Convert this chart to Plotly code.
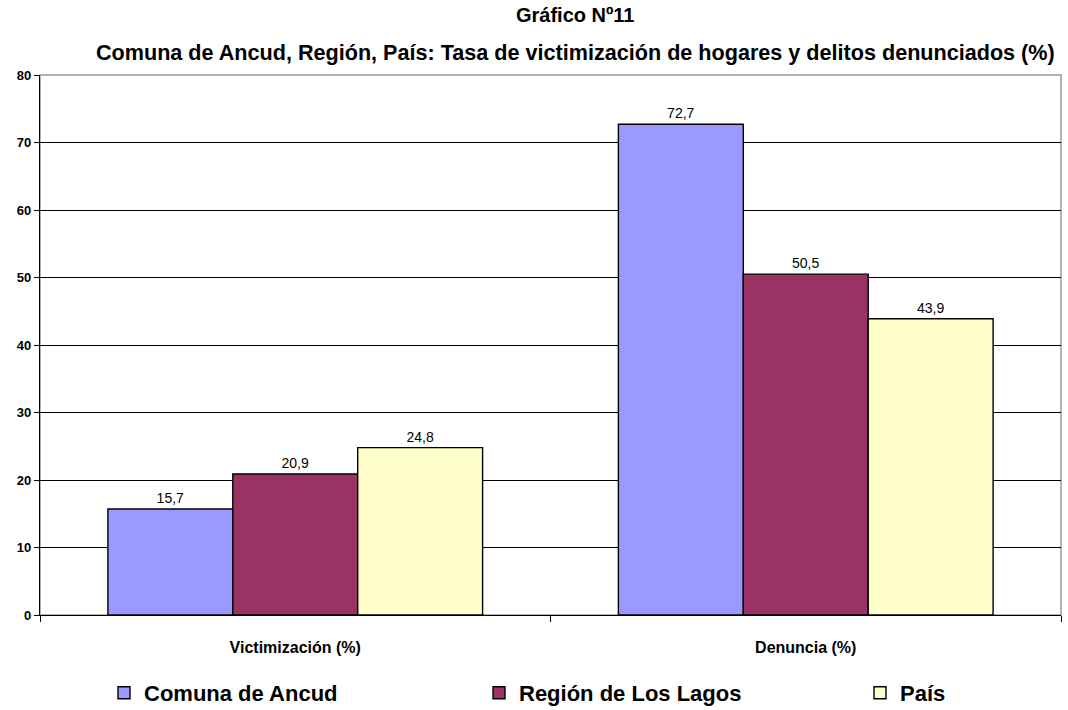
import plotly.graph_objects as go

# data
categories = ["Victimización (%)", "Denuncia (%)"]
series_names = ["Comuna de Ancud", "Región de Los Lagos", "País"]
ancud = [15.7, 72.7]
region = [20.9, 50.5]
pais = [24.8, 43.9]
y_ticks = [0, 10, 20, 30, 40, 50, 60, 70, 80]
title_lines = [
    "Gráfico Nº11",
    "Comuna de Ancud, Región, País: Tasa de victimización de hogares y delitos denunciados (%)",
]

colors = ["#9999FF", "#993366", "#FFFFCC"]
font_main = "Liberation Sans, Arial, sans-serif"
W, H = 1068, 710


def fmt(v):
    return f"{v:.1f}".replace(".", ",")


fig = go.Figure()
legend_ids = ["legend", "legend2", "legend3"]
for name, vals, col, lg in zip(series_names, [ancud, region, pais], colors, legend_ids):
    fig.add_trace(
        go.Bar(
            x=categories,
            y=vals,
            name=name,
            legend=lg,
            marker=dict(color=col, line=dict(color="black", width=1.4)),
            text=[fmt(v) for v in vals],
            textposition="outside",
            textfont=dict(family=font_main, size=14, color="black"),
            cliponaxis=False,
        )
    )

# gray frame around plot area (top/right edges)
fig.add_shape(
    type="rect", xref="paper", yref="paper", x0=0, x1=1, y0=0, y1=1,
    line=dict(color="#999999", width=1.5), layer="below",
)

# two-line title as annotations (plot area spans y 75..615 px)
for txt, ypx, sz in zip(title_lines, [15, 52], [20, 21.6]):
    fig.add_annotation(
        text=f"<b>{txt}</b>",
        xref="paper", yref="paper",
        x=(575 - 40) / 1021, y=(615 - ypx) / 540,
        xanchor="center", yanchor="middle",
        showarrow=False,
        font=dict(family=font_main, size=sz, color="black"),
    )

legend_style = dict(
    orientation="h",
    xref="container",
    yref="container",
    y=(H - 693) / H,
    yanchor="middle",
    xanchor="left",
    bgcolor="rgba(0,0,0,0)",
    font=dict(family=font_main, size=22, color="black", weight="bold"),
)

fig.update_layout(
    width=W,
    height=H,
    margin=dict(l=40, r=7, t=75, b=95, autoexpand=False),
    paper_bgcolor="white",
    plot_bgcolor="white",
    barmode="group",
    bargap=0.266,
    bargroupgap=0,
    font=dict(family=font_main, color="black"),
    showlegend=True,
    legend=dict(x=104 / W, **legend_style),
    legend2=dict(x=479 / W, **legend_style),
    legend3=dict(x=860 / W, **legend_style),
)

fig.update_xaxes(
    showline=True,
    linecolor="black",
    linewidth=1.4,
    ticks="outside",
    tickson="boundaries",
    ticklen=6,
    tickcolor="black",
    ticklabelstandoff=18,
    tickfont=dict(family=font_main, size=16, color="black", weight="bold"),
    showgrid=False,
)
fig.update_yaxes(
    range=[0, 80],
    tickvals=y_ticks,
    showline=True,
    linecolor="black",
    linewidth=1.4,
    ticks="outside",
    ticklen=5,
    tickcolor="black",
    tickfont=dict(family=font_main, size=13, color="black", weight="bold"),
    showgrid=True,
    gridcolor="black",
    gridwidth=1,
    zeroline=False,
)

# page body has a default 8px margin; drop it so the figure fills the window
fig.write_html(
    "out.html",
    config={"displayModeBar": False},
    post_script="document.body.style.margin='0';",
)
